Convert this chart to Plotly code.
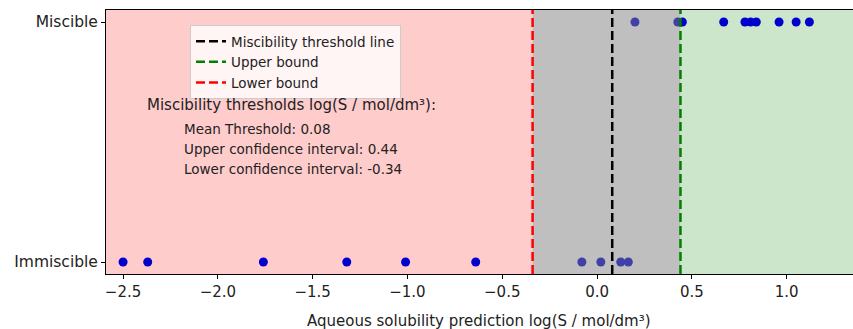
import plotly.graph_objects as go

# Data
immiscible_x = [-2.50, -2.37, -1.76, -1.32, -1.01, -0.64, -0.08, 0.02, 0.125, 0.165]
miscible_x = [0.20, 0.426, 0.45, 0.668, 0.78, 0.81, 0.84, 0.96, 1.05, 1.12]
threshold = 0.08
upper = 0.44
lower = -0.34
x_range = [-2.59, 1.35]
y_tick_vals = [0, 1]
y_tick_text = ["Immiscible", "Miscible"]
x_tick_vals = [-2.5, -2.0, -1.5, -1.0, -0.5, 0.0, 0.5, 1.0]
x_tick_text = ["−2.5", "−2.0", "−1.5", "−1.0", "−0.5", "0.0", "0.5", "1.0"]

FONT = "DejaVu Sans"
TXT = "#222222"
PT = "#0000cd"

L, T, W, H = 106, 10, 747, 264

def px(x):
    return (x - L) / W

def py(y):
    return (T + H - y) / H

fig = go.Figure()

# points
fig.add_trace(go.Scatter(x=immiscible_x, y=[0]*len(immiscible_x), mode="markers",
                         marker=dict(color=PT, size=9, line=dict(width=0)), showlegend=False,
                         hoverinfo="skip"))
fig.add_trace(go.Scatter(x=miscible_x, y=[1]*len(miscible_x), mode="markers",
                         marker=dict(color=PT, size=9, line=dict(width=0)), showlegend=False,
                         hoverinfo="skip"))

# legend entries
for name, col in [("Miscibility threshold line", "black"), ("Upper bound", "green"), ("Lower bound", "red")]:
    fig.add_trace(go.Scatter(x=[None], y=[None], mode="lines", name=name,
                             line=dict(color=col, width=2.5, dash="9px,4px")))

# spans
fig.add_shape(type="rect", xref="x", yref="paper", x0=x_range[0], x1=lower, y0=0, y1=1,
              fillcolor="red", opacity=0.2, line=dict(width=0), layer="below")
fig.add_shape(type="rect", xref="x", yref="paper", x0=upper, x1=x_range[1], y0=0, y1=1,
              fillcolor="green", opacity=0.2, line=dict(width=0), layer="below")
fig.add_shape(type="rect", xref="x", yref="paper", x0=lower, x1=upper, y0=0, y1=1,
              fillcolor="gray", opacity=0.5, line=dict(width=0), layer="above")

# dashed vertical lines
for v, col in [(threshold, "black"), (upper, "green"), (lower, "red")]:
    fig.add_shape(type="line", xref="x", yref="paper", x0=v, x1=v, y0=0, y1=1,
                  line=dict(color=col, width=2.5, dash="9px,4px"), layer="above")

# text annotations
fig.add_annotation(text="Miscibility thresholds log(S / mol/dm³):", xref="paper", yref="paper",
                   x=px(145), y=py(105), xanchor="left", yanchor="middle",
                   showarrow=False, font=dict(family=FONT, size=15, color=TXT))
for i, line in enumerate(["Mean Threshold: 0.08", "Upper confidence interval: 0.44",
                          "Lower confidence interval: -0.34"]):
    fig.add_annotation(text=line, xref="paper", yref="paper",
                       x=px(182), y=py(129 + 20 * i),
                       xanchor="left", yanchor="middle", showarrow=False,
                       font=dict(family=FONT, size=13.5, color=TXT))

# x-axis title
fig.add_annotation(text="Aqueous solubility prediction log(S / mol/dm³)", xref="paper", yref="paper",
                   x=px(479), y=py(321), xanchor="center", yanchor="middle", showarrow=False,
                   font=dict(family=FONT, size=15, color=TXT))

fig.update_layout(
    width=853, height=329,
    margin=dict(l=L, r=853 - L - W, t=T, b=329 - T - H, autoexpand=False),
    paper_bgcolor="white", plot_bgcolor="white",
    font=dict(family=FONT, size=15, color=TXT),
    legend=dict(x=px(190), y=py(25), xanchor="left", yanchor="top",
                bgcolor="rgba(255,255,255,0.8)", bordercolor="#cccccc", borderwidth=1,
                font=dict(family=FONT, size=13.5, color=TXT), tracegroupgap=0,
                itemwidth=30),
    showlegend=True,
)
fig.update_xaxes(range=x_range, tickvals=x_tick_vals, ticktext=x_tick_text, automargin=False,
                 showgrid=False, zeroline=False, ticks="outside", ticklen=4, tickwidth=1,
                 tickcolor="black", showline=True, linecolor="black", linewidth=1, mirror=True,
                 tickfont=dict(family=FONT, size=15, color=TXT))
fig.update_yaxes(range=[-0.05, 1.05], tickvals=y_tick_vals, ticktext=y_tick_text, automargin=False,
                 showgrid=False, zeroline=False, ticks="outside", ticklen=4, tickwidth=1,
                 tickcolor="black", showline=True, linecolor="black", linewidth=1, mirror=True,
                 tickfont=dict(family=FONT, size=15.5, color=TXT))

fig.write_html("out.html", config={"displayModeBar": False},
               post_script="document.body.style.margin='0';document.body.style.overflow='hidden';")
